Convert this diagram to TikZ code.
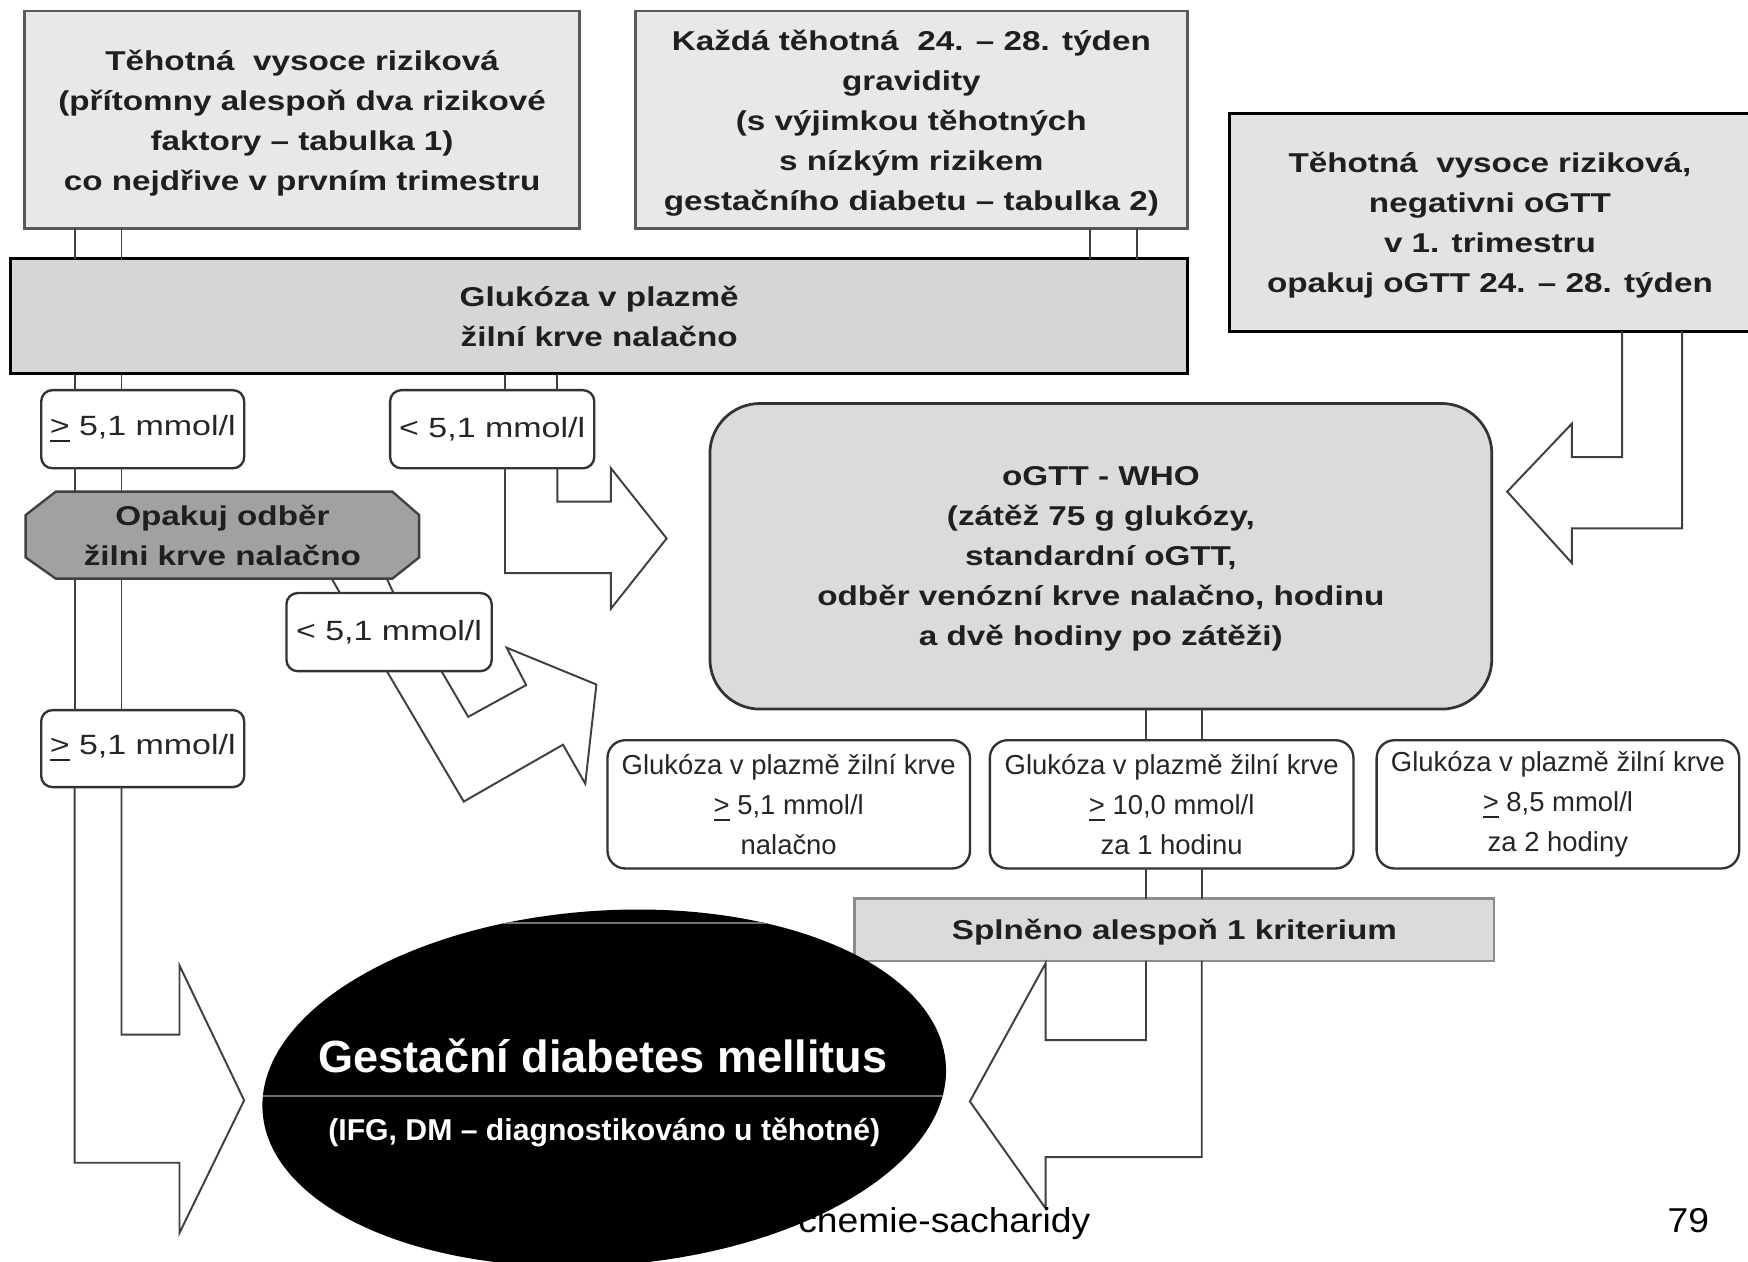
\documentclass[tikz,border=0pt]{standalone}
\usepackage{fontspec}
\setmainfont{Liberation Sans}
\newfontfamily\widefont{Liberation Sans}[FakeStretch=1.22]
\newfontfamily\footfont{Liberation Sans}[FakeStretch=1.08]
\usetikzlibrary{shapes.geometric,calc}
\newcommand{\gequ}{\underline{>}}
\begin{document}
\begin{tikzpicture}[x=0.01cm,y=-0.01cm,
  every node/.style={inner sep=0pt,outer sep=0pt},
  lgbox/.style={draw=black!65,line width=0.7pt,fill=black!9,text=black!88,align=center,text depth=-0.03cm,
    font=\widefont\bfseries\fontsize{6.95}{10.2}\selectfont},
  mbox/.style={draw=black!80,line width=0.6pt,fill=white,rounded corners=0.1cm,text=black!85,
    font=\widefont\fontsize{7.1}{8.5}\selectfont},
  cbox/.style={draw=black!80,line width=0.6pt,fill=white,rounded corners=0.16cm,align=center,text=black!85,
    font=\fontsize{7.0}{10.2}\selectfont},
  conn/.style={draw=black!75,line width=0.5pt}]
\useasboundingbox (0,0) rectangle (1568,1132);
\fill[white] (0,0) rectangle (1568,1132);

% x positions of the double lines
\coordinate (xa) at (67,0);   \coordinate (xb) at (109,0);
\coordinate (xc) at (453,0);  \coordinate (xd) at (500,0);
\coordinate (xe) at (978,0);  \coordinate (xf) at (1020,0);
\coordinate (xg) at (1455,0); \coordinate (xh) at (1509,0);
\coordinate (xi) at (1028,0); \coordinate (xj) at (1078,0);
\coordinate (q1) at (297.5,0); \coordinate (q2) at (305,0);
\coordinate (q3) at (347,0);   \coordinate (q4) at (353,0);
\coordinate (xk) at (347,0);   \coordinate (xl) at (396,0);
\coordinate (tipL) at (219,987);
\coordinate (tipM) at (598,483);
\coordinate (tipD) at (535,614);
\coordinate (tipR) at (1352,441);
\coordinate (tipS) at (870,988);

% top boxes
\node[lgbox,minimum width=4.98cm,minimum height=1.95cm] (b1) at (271,107.5)
  {Těhotná\ \ vysoce riziková\\(přítomny alespoň dva rizikové\\faktory – tabulka 1)\\co nejdřive v prvním trimestru};
\node[lgbox,minimum width=4.95cm,minimum height=1.95cm] (b2) at (817.5,107.5)
  {Každá těhotná\ \ 24. – 28. týden\\gravidity\\(s výjimkou těhotných\\s nízkým rizikem\\gestačního diabetu – tabulka 2)};
\node[lgbox,draw=black,line width=0.8pt,fill=black!11,minimum width=4.67cm,minimum height=1.95cm] (b3) at (1336.5,199.5)
  {Těhotná\ \ vysoce riziková,\\negativni oGTT\\v 1. trimestru\\opakuj oGTT 24. – 28. týden};
\node[lgbox,draw=black,line width=0.8pt,fill=black!16,text depth=0pt,minimum width=10.55cm,minimum height=1.03cm] (glu) at (537.5,283.5)
  {Glukóza v plazmě\\žilní krve nalačno};

% small result boxes
\node[mbox,minimum width=1.82cm,minimum height=0.70cm] (ge1) at (128,385) {\gequ\ 5,1 mmol/l};
\node[mbox,minimum width=1.83cm,minimum height=0.70cm] (lt1) at (441.5,385) {< 5,1 mmol/l};

% repeat sampling (octagon)
\draw[draw=black!75,line width=0.6pt,fill=black!37]
  (50,441) -- (352,441) -- (376,462) -- (376,500) -- (352,519) -- (50,519) -- (23,500) -- (23,462) -- cycle;
\node[align=center,text=black!88,font=\widefont\bfseries\fontsize{6.95}{10.2}\selectfont,
  minimum width=3.53cm,minimum height=0.78cm] (op) at (199.5,480) {Opakuj odběr\\žilni krve nalačno};

\node[mbox,minimum width=1.84cm,minimum height=0.70cm] (lt2) at (349,567) {< 5,1 mmol/l};
\node[mbox,minimum width=1.82cm,minimum height=0.69cm] (ge2) at (128,671.5) {\gequ\ 5,1 mmol/l};

% oGTT box
\node[lgbox,draw=black!80,line width=0.7pt,fill=black!14,rounded corners=0.45cm,
  minimum width=7.01cm,minimum height=2.74cm] (ogtt) at (987.5,499)
  {oGTT - WHO\\(zátěž 75 g glukózy,\\standardní oGTT,\\odběr venózní krve nalačno, hodinu\\a dvě hodiny po zátěži)};

% criteria
\node[cbox,minimum width=3.25cm,minimum height=1.15cm] (cA) at (707.5,721.5)
  {Glukóza v plazmě žilní krve\\\gequ\ 5,1 mmol/l\\nalačno};
\node[cbox,minimum width=3.26cm,minimum height=1.15cm] (cB) at (1051,721.5)
  {Glukóza v plazmě žilní krve\\\gequ\ 10,0 mmol/l\\za 1 hodinu};
\node[cbox,minimum width=3.25cm,minimum height=1.15cm] (cC) at (1397.5,721.5)
  {Glukóza v plazmě žilní krve\\\gequ\ 8,5 mmol/l\\za 2 hodiny};

\node[lgbox,draw=black!45,line width=0.7pt,fill=black!14,text depth=0pt,minimum width=5.73cm,minimum height=0.56cm] (spl) at (1053.5,834)
  {Splněno alespoň 1 kriterium};

% connectors
\draw[conn] (b1.south -| xa) -- (glu.north -| xa);
\draw[conn] (b1.south -| xb) -- (glu.north -| xb);
\draw[conn] (b2.south -| xe) -- (glu.north -| xe);
\draw[conn] (b2.south -| xf) -- (glu.north -| xf);
\draw[conn] (glu.south -| xa) -- (ge1.north -| xa);
\draw[conn] (glu.south -| xb) -- (ge1.north -| xb);
\draw[conn] (ge1.south -| xa) -- (op.north -| xa);
\draw[conn] (ge1.south -| xb) -- (op.north -| xb);
\draw[conn] (op.south -| xa) -- (ge2.north -| xa);
\draw[conn] (op.south -| xb) -- (ge2.north -| xb);
\draw[conn] (ge2.south -| xa) -- (67,1043) -- (161,1043) -- (161,1106) -- (tipL)
  -- (161,866) -- (161,928) -- (109,928) -- (ge2.south -| xb);

\draw[conn] (glu.south -| xc) -- (lt1.north -| xc);
\draw[conn] (glu.south -| xd) -- (lt1.north -| xd);
\draw[conn] (lt1.south -| xc) -- (453,514) -- (548,514) -- (548,546) -- (tipM)
  -- (548,420) -- (548,450) -- (500,450) -- (lt1.south -| xd);

\draw[conn] (op.south -| q1) -- (lt2.north -| q2);
\draw[conn] (op.south -| q3) -- (lt2.north -| q4);
\draw[conn] (lt2.south -| xk) -- (416,719) -- (505,668) -- (525,703) -- (tipD)
  -- (454.5,581) -- (472,614.5) -- (420,643) -- (lt2.south -| xl);

\draw[conn] (b3.south -| xg) -- (1455,410) -- (1410,410) -- (1410,380) -- (tipR)
  -- (1410,505) -- (1410,474) -- (1509,474) -- (b3.south -| xh);

\draw[conn] (ogtt.south -| xi) -- (cB.north -| xi);
\draw[conn] (ogtt.south -| xj) -- (cB.north -| xj);
\draw[conn] (cB.south -| xi) -- (spl.north -| xi);
\draw[conn] (cB.south -| xj) -- (spl.north -| xj);
\draw[conn] (spl.south -| xi) -- (1028,933) -- (938,933) -- (938,864) -- (tipS)
  -- (938,1084) -- (938,1038) -- (1078,1038) -- (spl.south -| xj);

% footer
\node[anchor=base east,font=\footfont\fontsize{8.8}{10}\selectfont] (foot) at (978,1106) {chemie-sacharidy};
\node[anchor=base east,font=\footfont\fontsize{8.8}{10}\selectfont] (page) at (1533,1106) {79};

% result ellipse
\node[ellipse,fill=black,draw=none,rotate=4,minimum width=6.14cm,minimum height=3.18cm] (gdm) at (542,976) {};
\begin{scope}
  \clip[rotate around={4:(542,976)}] (542,976) ellipse [x radius=3.07cm,y radius=1.59cm];
  \draw[black!55,line width=0.5pt] (200,983) -- (900,983);
  \draw[black!55,line width=0.5pt] (200,828) -- (900,828);
\end{scope}
\node[text=white,font=\bfseries\fontsize{11.5}{13}\selectfont] (gdmA) at (541,947) {Gestační diabetes mellitus};
\node[text=white,font=\bfseries\fontsize{7.7}{9}\selectfont] (gdmB) at (542,1016) {(IFG, DM – diagnostikováno u těhotné)};
\end{tikzpicture}
\end{document}
